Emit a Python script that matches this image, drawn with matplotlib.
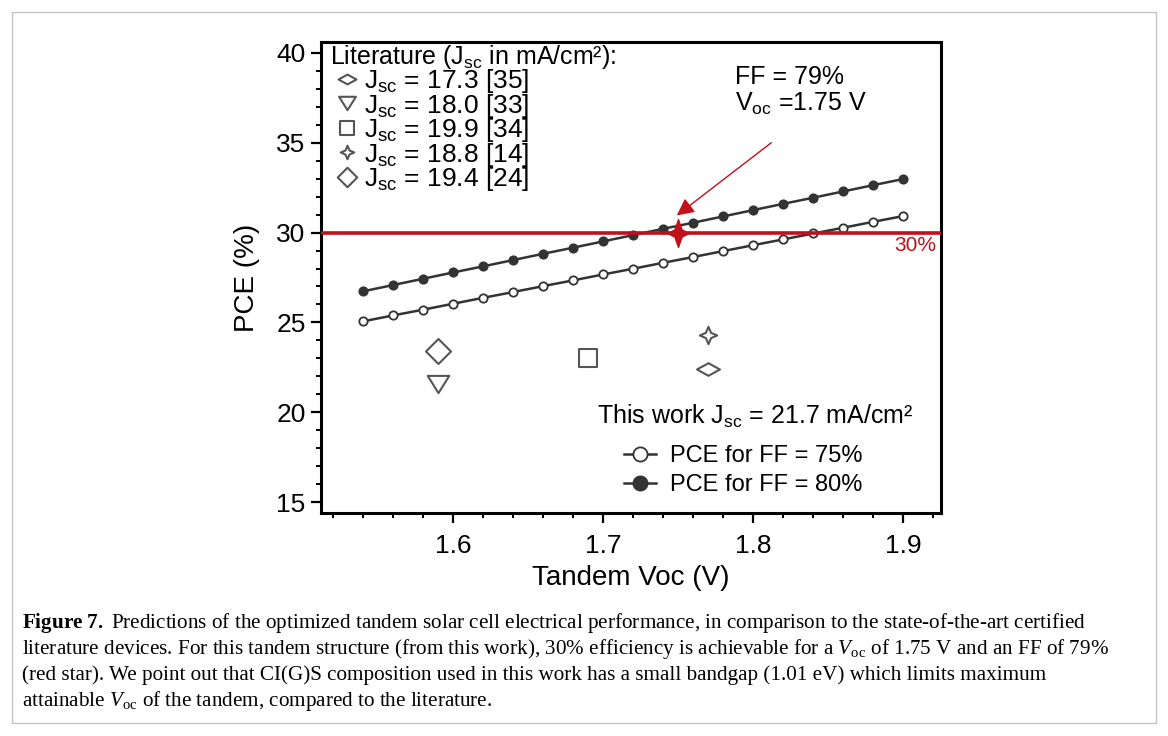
import matplotlib
matplotlib.use("Agg")
import matplotlib.pyplot as plt
from matplotlib.path import Path
from matplotlib.patches import Rectangle
from matplotlib.ticker import MultipleLocator

plt.rcParams['font.family'] = ['Liberation Sans', 'DejaVu Sans']
plt.rcParams['mathtext.fontset'] = 'custom'
plt.rcParams['mathtext.rm'] = 'Liberation Serif'
plt.rcParams['mathtext.it'] = 'Liberation Serif:italic'
plt.rcParams['mathtext.bf'] = 'Liberation Serif:bold'
plt.rcParams['mathtext.default'] = 'regular'

# ---------------- data ----------------
voc = [1.54, 1.56, 1.58, 1.60, 1.62, 1.64, 1.66, 1.68, 1.70, 1.72,
       1.74, 1.76, 1.78, 1.80, 1.82, 1.84, 1.86, 1.88, 1.90]
pce_ff75 = [25.06, 25.39, 25.71, 26.04, 26.37, 26.69, 27.02, 27.34, 27.67, 27.99,
            28.32, 28.64, 28.97, 29.30, 29.62, 29.95, 30.27, 30.60, 30.92]
pce_ff80 = [26.73, 27.08, 27.43, 27.78, 28.12, 28.47, 28.82, 29.16, 29.51, 29.86,
            30.21, 30.55, 30.90, 31.25, 31.60, 31.94, 32.29, 32.64, 32.98]
series_labels = ['PCE for FF = 75%', 'PCE for FF = 80%']

lit_labels = ['J$_{sc}$ = 17.3 [35]', 'J$_{sc}$ = 18.0 [33]', 'J$_{sc}$ = 19.9 [34]',
              'J$_{sc}$ = 18.8 [14]', 'J$_{sc}$ = 19.4 [24]']
lit_voc = [1.77, 1.59, 1.69, 1.77, 1.59]
lit_pce = [22.4, 21.6, 23.0, 24.3, 23.4]

target_voc = [1.75]
target_pce = [30.0]
threshold = 30.0

x_ticks = [1.6, 1.7, 1.8, 1.9]
y_ticks = [15, 20, 25, 30, 35, 40]

# ---------------- markers ----------------
wide_diamond = Path([(-1, 0), (0, 0.55), (1, 0), (0, -0.55), (-1, 0)], closed=True)
tri_down = Path([(-1, 0.8), (1, 0.8), (0, -0.8), (-1, 0.8)], closed=True)
square = Path([(-1, -1), (1, -1), (1, 1), (-1, 1), (-1, -1)], closed=True)
star4 = Path([(0, 1), (0.3, 0.3), (1, 0), (0.3, -0.3), (0, -1), (-0.3, -0.3),
              (-1, 0), (-0.3, 0.3), (0, 1)], closed=True)
diamond = Path([(0, 1), (1, 0), (0, -1), (-1, 0), (0, 1)], closed=True)
red_star = Path([(0, 1), (0.26, 0.26), (0.78, 0), (0.26, -0.26), (0, -1), (-0.26, -0.26),
                 (-0.78, 0), (-0.26, 0.26), (0, 1)], closed=True)
lit_markers = [wide_diamond, tri_down, square, star4, diamond]
lit_sizes = [16.5, 15.5, 13.5, 12.5, 18]

W, H = 1168, 736
fig = plt.figure(figsize=(W / 100, H / 100), dpi=100)


def fx(px):
    return px / W


def fy(py):
    return 1 - py / H


ax = fig.add_axes([fx(321), fy(513), fx(941) - fx(321), fy(42) - fy(513)])
ax.set_xlim(1.512, 1.925)
ax.set_ylim(14.4, 40.6)

gray = '#333333'
litc = '#555555'
red = '#c0101a'

l75, = ax.plot(voc, pce_ff75, '-o', color=gray, lw=1.8, ms=6, mfc='white',
               mec=gray, mew=1.3, zorder=3, label=series_labels[0])
l80, = ax.plot(voc, pce_ff80, '-o', color=gray, lw=1.8, ms=6, mfc=gray,
               mec=gray, mew=1.3, zorder=3, label=series_labels[1])

lit_handles = []
for xv, yv, mk, ms, lab in zip(lit_voc, lit_pce, lit_markers, lit_sizes, lit_labels):
    h, = ax.plot([xv], [yv], linestyle='none', marker=mk, ms=ms, mfc='none',
                 mec=litc, mew=1.5, label=lab, zorder=3)
    lit_handles.append(h)

ax.axhline(threshold, color=red, lw=2.6, zorder=4)
ax.plot(target_voc, target_pce, linestyle='none', marker=red_star, ms=20,
        color=red, zorder=5)

ax.annotate('', xy=(1.749, 30.95), xytext=(1.812, 35.0),
            arrowprops=dict(arrowstyle='-|>', color=red, lw=1.0,
                            mutation_scale=26, shrinkA=0, shrinkB=0))

ax.text(1.922, 29.3, '30%', color=red, fontsize=15, ha='right', va='center')

# ticks
ax.set_xticks(x_ticks)
ax.set_yticks(y_ticks)
ax.xaxis.set_minor_locator(MultipleLocator(0.02))
ax.yaxis.set_minor_locator(MultipleLocator(1))
ax.tick_params(which='major', direction='out', length=7, width=1.6, labelsize=19,
               pad=4)
ax.tick_params(which='minor', direction='out', length=3.5, width=1.4)
ax.tick_params(axis='x', pad=8)
for s in ax.spines.values():
    s.set_linewidth(2.2)

ax.set_xlabel('Tandem Voc (V)', fontsize=20, labelpad=5)
ax.set_ylabel('PCE (%)', fontsize=20, labelpad=12)

# annotation text
fig.text(fx(735), fy(77), 'FF = 79%', fontsize=18, ha='left', va='center')
fig.text(fx(735), fy(104), 'V$_{oc}$ =1.75 V', fontsize=18, ha='left', va='center')

# literature legend
fig.text(fx(330), fy(57), 'Literature (J$_{sc}$ in mA/cm²):', fontsize=18,
         ha='left', va='center')
leg1 = ax.legend(handles=lit_handles, labels=lit_labels, loc='upper left',
                 bbox_to_anchor=(fx(336), fy(67)), bbox_transform=fig.transFigure,
                 frameon=False, fontsize=19, markerscale=0.78, handlelength=0.85,
                 handletextpad=0.2, labelspacing=-0.13, borderpad=0,
                 borderaxespad=0)
ax.add_artist(leg1)

# this work legend
fig.text(fx(755), fy(416), 'This work J$_{sc}$ = 21.7 mA/cm²', fontsize=18,
         ha='center', va='center')
leg2 = ax.legend(handles=[l75, l80], labels=series_labels, loc='upper left',
                 bbox_to_anchor=(fx(624), fy(445)), bbox_transform=fig.transFigure,
                 frameon=False, fontsize=17, handlelength=1.35, handletextpad=0.6,
                 labelspacing=0.3, borderpad=0, borderaxespad=0, markerscale=1.7)

# caption
cap_lines = [
    r'$\bf{Figure\ 7.}$ Predictions of the optimized tandem solar cell electrical performance, in comparison to the state-of-the-art certified',
    r'literature devices. For this tandem structure (from this work), 30% efficiency is achievable for a $\it{V}_{\rm oc}$ of 1.75 V and an FF of 79%',
    r'(red star). We point out that CI(G)S composition used in this work has a small bandgap (1.01 eV) which limits maximum',
    r'attainable $\it{V}_{\rm oc}$ of the tandem, compared to the literature.',
]
for i, line in enumerate(cap_lines):
    fig.text(fx(22), fy(628 + 26 * i), line, fontsize=15.2, family='Liberation Serif',
             ha='left', va='baseline')

fig.patches.append(Rectangle((fx(12), fy(723)), fx(1156) - fx(12), fy(12) - fy(723),
                             transform=fig.transFigure, fill=False,
                             edgecolor='#c4c4c4', lw=1.0))

fig.savefig('out.png', dpi=100)
